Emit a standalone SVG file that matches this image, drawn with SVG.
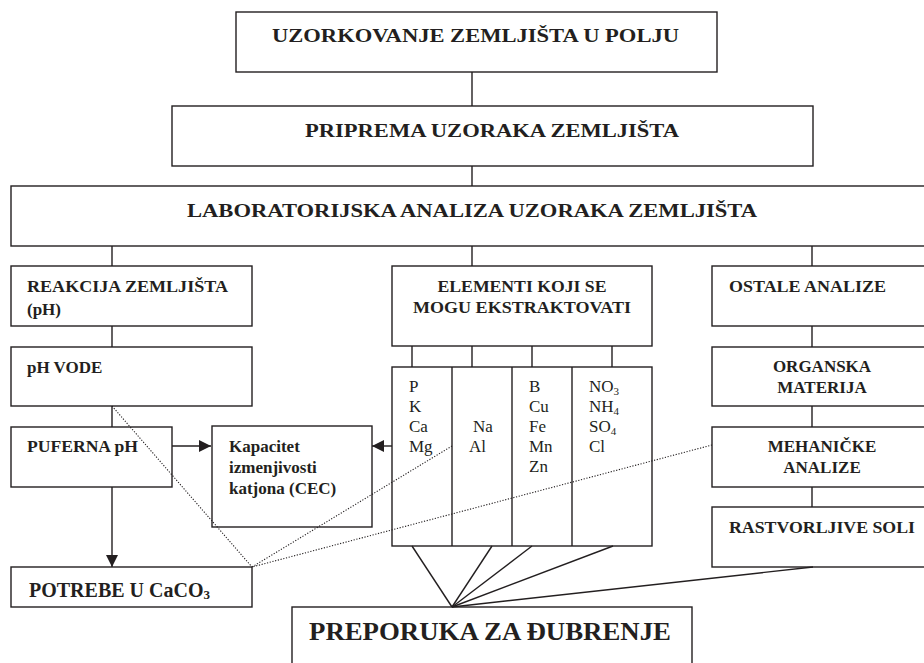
<svg xmlns="http://www.w3.org/2000/svg" width="924" height="663" viewBox="0 0 924 663">
<defs>
<style>
.box{fill:none;stroke:#231f20;stroke-width:1.4}
.ln{fill:none;stroke:#231f20;stroke-width:1.4}
.dot{fill:none;stroke:#231f20;stroke-width:1.1;stroke-dasharray:1.2 1.6}
.t{font-family:"Liberation Serif","Times New Roman","DejaVu Serif",serif;fill:#231f20}
.b{font-weight:bold}
.h{font-size:18px}
.m{font-size:17px}
.c{text-anchor:middle}
.sub{font-size:11px}
</style>
<marker id="ah" viewBox="0 0 12 12" refX="12" refY="6" markerWidth="12" markerHeight="12" markerUnits="userSpaceOnUse" orient="auto">
<path d="M0,0 L12,6 L0,12 Z" fill="#231f20"/>
</marker>
</defs>
<rect width="924" height="663" fill="#fff"/>
<g id="connectors">
<line class="ln" x1="472" y1="72" x2="472" y2="106"/>
<line class="ln" x1="472" y1="166" x2="472" y2="186"/>
<line class="ln" x1="112" y1="246" x2="112" y2="266"/>
<line class="ln" x1="472" y1="246" x2="472" y2="266"/>
<line class="ln" x1="812" y1="246" x2="812" y2="266"/>
<line class="ln" x1="112" y1="326" x2="112" y2="347"/>
<line class="ln" x1="112" y1="406" x2="112" y2="427"/>
<line class="ln" x1="172" y1="446" x2="211" y2="446" marker-end="url(#ah)"/>
<line class="ln" x1="392" y1="446" x2="372" y2="446" marker-end="url(#ah)"/>
<line class="ln" x1="112" y1="487" x2="112" y2="567" marker-end="url(#ah)"/>
<line class="ln" x1="412" y1="346" x2="412" y2="367"/>
<line class="ln" x1="472" y1="346" x2="472" y2="367"/>
<line class="ln" x1="532" y1="346" x2="532" y2="367"/>
<line class="ln" x1="612" y1="346" x2="612" y2="367"/>
<line class="ln" x1="812" y1="326" x2="812" y2="347"/>
<line class="ln" x1="812" y1="406" x2="812" y2="427"/>
<line class="ln" x1="812" y1="487" x2="812" y2="507"/>
<line class="ln" x1="412" y1="546" x2="452" y2="607"/>
<line class="ln" x1="492" y1="546" x2="452" y2="607"/>
<line class="ln" x1="532" y1="546" x2="452" y2="607"/>
<line class="ln" x1="613" y1="546" x2="452" y2="607"/>
<line class="ln" x1="813" y1="567" x2="452" y2="607"/>
<line class="dot" x1="112" y1="406" x2="252" y2="567"/>
<line class="dot" x1="452" y1="446" x2="252" y2="567"/>
<line class="dot" x1="712" y1="445" x2="252" y2="567"/>
</g>
<g id="n-uzorkovanje">
<rect class="box" x="236" y="12" width="481" height="60"/>
<text class="t b h" x="272" y="42" textLength="407" lengthAdjust="spacingAndGlyphs">UZORKOVANJE ZEMLJIŠTA U POLJU</text>
</g>
<g id="n-priprema">
<rect class="box" x="172" y="106" width="641" height="60"/>
<text class="t b h" x="305" y="137" textLength="374" lengthAdjust="spacingAndGlyphs">PRIPREMA UZORAKA ZEMLJIŠTA</text>
</g>
<g id="n-laboratorija">
<rect class="box" x="11" y="186" width="930" height="60"/>
<text class="t b h" x="187" y="217" textLength="570" lengthAdjust="spacingAndGlyphs">LABORATORIJSKA ANALIZA UZORAKA ZEMLJIŠTA</text>
</g>
<g id="n-reakcija">
<rect class="box" x="11" y="266" width="241" height="60"/>
<text class="t b m" x="27" y="292" textLength="201" lengthAdjust="spacingAndGlyphs">REAKCIJA ZEMLJIŠTA</text>
<text class="t b m" x="27" y="315">(pH)</text>
</g>
<g id="n-phvode">
<rect class="box" x="11" y="347" width="241" height="59"/>
<text class="t b m" x="27" y="373">pH VODE</text>
</g>
<g id="n-puferna">
<rect class="box" x="11" y="427" width="161" height="60"/>
<text class="t b m" x="27" y="452" textLength="111" lengthAdjust="spacingAndGlyphs">PUFERNA pH</text>
</g>
<g id="n-cec">
<rect class="box" x="212" y="426" width="160" height="101"/>
<text class="t b m" x="229" y="452">Kapacitet</text>
<text class="t b m" x="229" y="473">izmenjivosti</text>
<text class="t b m" x="229" y="494">katjona (CEC)</text>
</g>
<g id="n-elementi">
<rect class="box" x="392" y="266" width="260" height="80"/>
<text class="t b m c" x="522" y="292" textLength="169" lengthAdjust="spacingAndGlyphs">ELEMENTI KOJI SE</text>
<text class="t b m c" x="522" y="313" textLength="218" lengthAdjust="spacingAndGlyphs">MOGU EKSTRAKTOVATI</text>
</g>
<g id="n-elementi-lista">
<rect class="box" x="392" y="367" width="260" height="179"/>
<line class="ln" x1="452" y1="367" x2="452" y2="546"/>
<line class="ln" x1="512" y1="367" x2="512" y2="546"/>
<line class="ln" x1="572" y1="367" x2="572" y2="546"/>
<text class="t m" x="409" y="392">P</text>
<text class="t m" x="409" y="412">K</text>
<text class="t m" x="409" y="432">Ca</text>
<text class="t m" x="409" y="452">Mg</text>
<text class="t m" x="473" y="432">Na</text>
<text class="t m" x="469" y="452">Al</text>
<text class="t m" x="529" y="392">B</text>
<text class="t m" x="529" y="412">Cu</text>
<text class="t m" x="529" y="432">Fe</text>
<text class="t m" x="529" y="452">Mn</text>
<text class="t m" x="529" y="472">Zn</text>
<text class="t m" x="589" y="392">NO<tspan class="sub" dy="3">3</tspan></text>
<text class="t m" x="589" y="412">NH<tspan class="sub" dy="3">4</tspan></text>
<text class="t m" x="589" y="432">SO<tspan class="sub" dy="3">4</tspan></text>
<text class="t m" x="589" y="452">Cl</text>
</g>
<g id="n-ostale">
<rect class="box" x="712" y="266" width="230" height="60"/>
<text class="t b m" x="729" y="292" textLength="157" lengthAdjust="spacingAndGlyphs">OSTALE ANALIZE</text>
</g>
<g id="n-organska">
<rect class="box" x="712" y="347" width="230" height="59"/>
<text class="t b m c" x="822" y="372">ORGANSKA</text>
<text class="t b m c" x="822" y="393">MATERIJA</text>
</g>
<g id="n-mehanicke">
<rect class="box" x="712" y="427" width="230" height="60"/>
<text class="t b m c" x="822" y="452">MEHANIČKE</text>
<text class="t b m c" x="822" y="473">ANALIZE</text>
</g>
<g id="n-rastvorljive">
<rect class="box" x="712" y="507" width="230" height="60"/>
<text class="t b m" x="729" y="533" textLength="186" lengthAdjust="spacingAndGlyphs">RASTVORLJIVE SOLI</text>
</g>
<g id="n-potrebe">
<rect class="box" x="11" y="567" width="241" height="40"/>
<text class="t b" font-size="20" x="29" y="597">POTREBE U CaCO<tspan font-size="13" dy="2">3</tspan></text>
</g>
<g id="n-preporuka">
<rect class="box" x="292" y="607" width="400" height="70"/>
<text class="t b" font-size="25" x="309" y="640" textLength="362" lengthAdjust="spacingAndGlyphs">PREPORUKA ZA ĐUBRENJE</text>
</g>
</svg>
